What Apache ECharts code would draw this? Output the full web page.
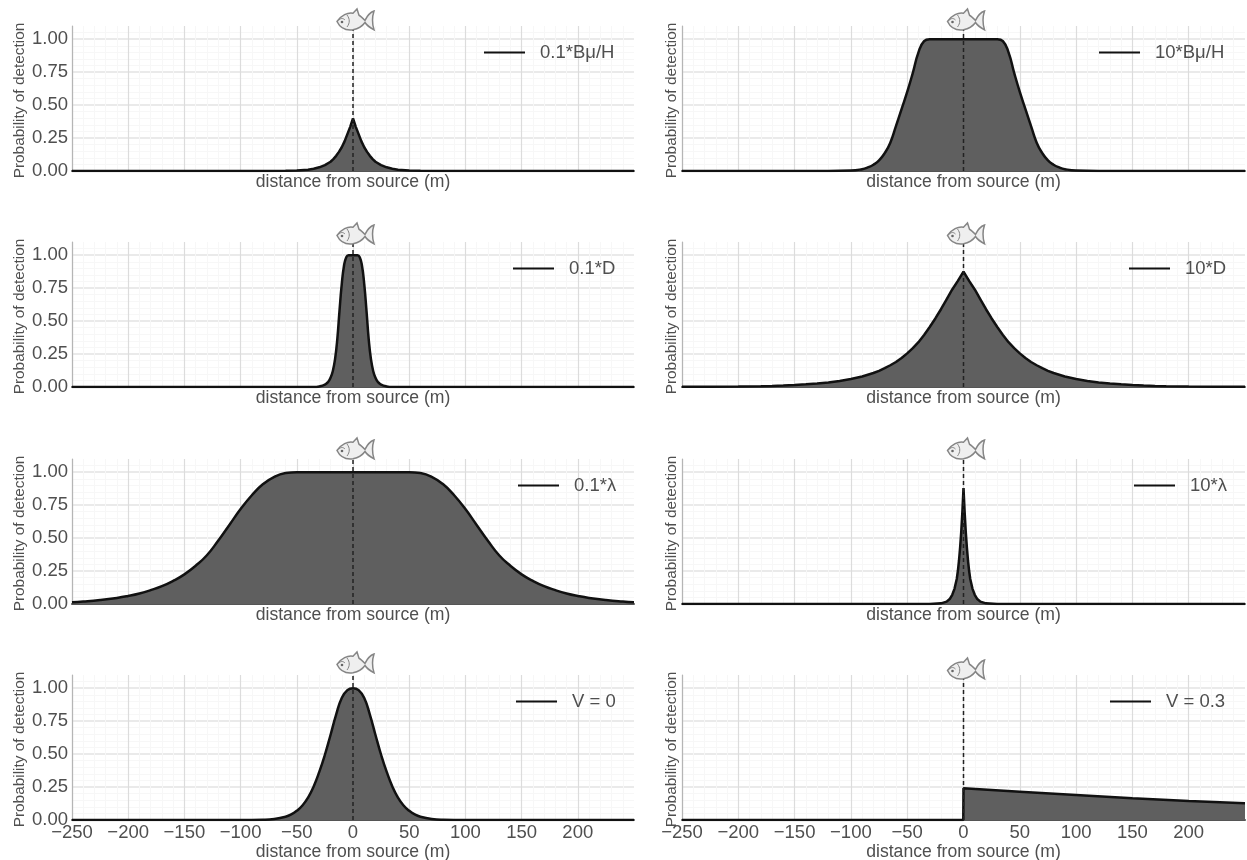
<!DOCTYPE html>
<html lang="en">
<head>
    <meta charset="UTF-8">
    <title>detection</title>
    <script src="https://cdn.jsdelivr.net/npm/echarts@6/dist/echarts.min.js"></script>
    <style>
        html, body { margin: 0; padding: 0; background: #fff; }
    </style>
</head>
<body>
<div id="main" style="width: 1247px; height: 860px"></div>

<script>
    // values
    var seriesNames = ['0.1*Bμ/H', '10*Bμ/H', '0.1*D', '10*D', '0.1*λ', '10*λ', 'V = 0', 'V = 0.3'];
    var xName = 'distance from source (m)';
    var yName = 'Probability of detection';

    var xBmuLow = [-250, -80, -60, -50, -40, -35, -30, -25, -20, -17.5, -15, -12.5, -10, -7.5, -5, -2.5, 0, 2.5, 5, 7.5, 10, 12.5, 15, 17.5, 20, 25, 30, 35, 40, 50, 60, 80, 250];
    var yBmuLow = [0, 0, 0.001, 0.004, 0.01, 0.017, 0.028, 0.045, 0.07, 0.09, 0.115, 0.145, 0.18, 0.225, 0.28, 0.335, 0.40, 0.335, 0.28, 0.225, 0.18, 0.145, 0.115, 0.09, 0.07, 0.045, 0.028, 0.017, 0.01, 0.004, 0.001, 0, 0];

    var xBmuHigh = [-250, -120, -100, -90, -85, -80, -75, -70, -65, -60, -55, -50, -45, -40, -35, -30, -25, 0, 25, 30, 35, 40, 45, 50, 55, 60, 65, 70, 75, 80, 85, 90, 100, 120, 250];
    var yBmuHigh = [0, 0, 0.003, 0.014, 0.027, 0.047, 0.08, 0.135, 0.215, 0.34, 0.47, 0.60, 0.745, 0.90, 0.985, 1, 1, 1, 1, 1, 0.985, 0.90, 0.745, 0.60, 0.47, 0.34, 0.215, 0.135, 0.08, 0.047, 0.027, 0.014, 0.003, 0, 0];

    var xDLow = [-250, -35, -30, -25, -22, -20, -18, -16, -14, -12, -10, -8, -6, -4, 0, 4, 6, 8, 10, 12, 14, 16, 18, 20, 22, 25, 30, 35, 250];
    var yDLow = [0, 0, 0.004, 0.018, 0.04, 0.07, 0.12, 0.21, 0.36, 0.58, 0.78, 0.92, 0.985, 1, 1, 1, 0.985, 0.92, 0.78, 0.58, 0.36, 0.21, 0.12, 0.07, 0.04, 0.018, 0.004, 0, 0];

    var xDHigh = [-250, -225, -200, -180, -170, -160, -150, -140, -130, -120, -110, -100, -90, -80, -75, -70, -65, -60, -55, -50, -45, -40, -35, -30, -25, -20, -15, -10, -5, 0, 5, 10, 15, 20, 25, 30, 35, 40, 45, 50, 55, 60, 65, 70, 75, 80, 90, 100, 110, 120, 130, 140, 150, 160, 170, 180, 200, 225, 250];
    var yDHigh = [0.001, 0.0015, 0.003, 0.006, 0.008, 0.011, 0.015, 0.02, 0.026, 0.035, 0.046, 0.06, 0.08, 0.106, 0.123, 0.143, 0.165, 0.19, 0.22, 0.255, 0.295, 0.34, 0.395, 0.455, 0.52, 0.59, 0.665, 0.74, 0.805, 0.875, 0.805, 0.74, 0.665, 0.59, 0.52, 0.455, 0.395, 0.34, 0.295, 0.255, 0.22, 0.19, 0.165, 0.143, 0.123, 0.106, 0.08, 0.06, 0.046, 0.035, 0.026, 0.02, 0.015, 0.011, 0.008, 0.006, 0.003, 0.0015, 0.001];

    var xLamLow = [-250, -240, -225, -210, -200, -190, -180, -170, -160, -150, -140, -130, -120, -110, -100, -90, -80, -70, -60, -50, 0, 50, 60, 70, 80, 90, 100, 110, 120, 130, 140, 150, 160, 170, 180, 190, 200, 210, 225, 240, 250];
    var yLamLow = [0.014, 0.019, 0.03, 0.046, 0.061, 0.08, 0.105, 0.135, 0.175, 0.225, 0.29, 0.37, 0.48, 0.60, 0.72, 0.825, 0.91, 0.965, 0.993, 1, 1, 1, 0.993, 0.965, 0.91, 0.825, 0.72, 0.60, 0.48, 0.37, 0.29, 0.225, 0.175, 0.135, 0.105, 0.08, 0.061, 0.046, 0.03, 0.019, 0.014];

    var xLamHigh = [-250, -30, -20, -15, -12, -10, -8, -6, -5, -4, -3, -2, -1, 0, 1, 2, 3, 4, 5, 6, 8, 10, 12, 15, 20, 30, 250];
    var yLamHigh = [0, 0, 0.005, 0.018, 0.04, 0.07, 0.115, 0.19, 0.25, 0.33, 0.43, 0.55, 0.70, 0.88, 0.70, 0.55, 0.43, 0.33, 0.25, 0.19, 0.115, 0.07, 0.04, 0.018, 0.005, 0, 0];

    var xVZero = [-250, -100, -80, -70, -60, -55, -50, -45, -40, -35, -30, -25, -20, -15, -10, -5, 0, 5, 10, 15, 20, 25, 30, 35, 40, 45, 50, 55, 60, 70, 80, 100, 250];
    var yVZero = [0, 0, 0.002, 0.008, 0.025, 0.042, 0.07, 0.11, 0.17, 0.255, 0.365, 0.495, 0.645, 0.80, 0.925, 0.985, 1, 0.985, 0.925, 0.80, 0.645, 0.495, 0.365, 0.255, 0.17, 0.11, 0.07, 0.042, 0.025, 0.008, 0.002, 0, 0];

    var xVHigh = [-250, -0.2, 0, 50, 100, 150, 200, 250];
    var yVHigh = [0, 0, 0.24, 0.215, 0.19, 0.165, 0.145, 0.128];

    var panelX = [xBmuLow, xBmuHigh, xDLow, xDHigh, xLamLow, xLamHigh, xVZero, xVHigh];
    var panelY = [yBmuLow, yBmuHigh, yDLow, yDHigh, yLamLow, yLamHigh, yVZero, yVHigh];
    var smoothed = [false, true, true, false, true, false, true, false];

    // layout in pixels
    var colLeft = [72, 682];
    var colWidth = [562, 563];
    var rowTop = [26, 242, 459, 675];
    var gridHeight = 145;
    var legendLeft = [484, 1099, 513, 1129, 518, 1134, 516, 1110];
    var fishCenterY = [20, 20, 234, 234, 449, 449, 663, 669];

    var fishBody = 'M2 13C6 7 13 4 18 5L22 1L24 7C26 8 28 10 30 12C32 8 36 4 39 3C37 9 37 15 39 21C35 19 32 17 30 14C27 18 23 20 18 21C10 22 5 19 2 13Z';
    var fishGill = 'M12 7C15 11 15 15 12 19M4 12C6 10 8 10 10 12';

    // the fish icon sits above x = 0 of its panel
    function fishRenderer(cy) {
        return function (params, api) {
            var pt = api.coord([0, 0]);
            return {
                type: 'group',
                x: pt[0] - 18,
                y: cy - 12,
                silent: true,
                children: [
                    { type: 'path', shape: { pathData: fishBody, x: 2, y: 1, width: 37, height: 21, layout: 'cover' }, style: { fill: '#efefef', stroke: '#858585', lineWidth: 1.5 } },
                    { type: 'path', shape: { pathData: fishGill, x: 4, y: 7, width: 10.25, height: 12, layout: 'cover' }, style: { fill: 'none', stroke: '#858585', lineWidth: 1 } },
                    { type: 'circle', shape: { cx: 7, cy: 14, r: 1.3 }, style: { fill: '#666' } }
                ]
            };
        };
    }

    var grids = [], xAxes = [], yAxes = [], series = [], legends = [];

    for (var i = 0; i < 8; i++) {
        var col = i % 2;
        var row = Math.floor(i / 2);
        var bottomRow = row === 3;

        // outerBoundsMode none: v6 would otherwise shrink the grid to fit the axis names
        grids.push({ left: colLeft[col], top: rowTop[row], width: colWidth[col], height: gridHeight, outerBoundsMode: 'none' });

        xAxes.push({
            gridIndex: i,
            type: 'value',
            min: -250,
            max: 250,
            interval: 50,
            name: xName,
            nameLocation: 'middle',
            nameGap: bottomRow ? 22 : 2,
            nameTextStyle: { fontFamily: 'Liberation Sans', fontSize: 17.6, color: '#4f4f4f', verticalAlign: 'top' },
            axisLine: { show: true, onZero: false, lineStyle: { color: '#555', width: 2 } },
            axisTick: { show: false },
            minorTick: { show: false, splitNumber: 5 },
            axisLabel: {
                show: bottomRow,
                margin: 3,
                fontFamily: 'Liberation Sans',
                fontSize: 18.5,
                color: '#4f4f4f',
                showMaxLabel: false,
                formatter: function (v) { return String(v).replace('-', '\u2212'); }
            },
            splitLine: { show: true, showMaxLine: false, lineStyle: { color: '#dcdcdc', width: 1.2 } },
            minorSplitLine: { show: true, lineStyle: { color: '#f7f7f7', width: 1 } }
        });

        yAxes.push({
            gridIndex: i,
            type: 'value',
            min: 0,
            max: 1.1,
            interval: 0.25,
            name: yName,
            nameLocation: 'middle',
            nameGap: col === 0 ? 45 : 3,
            nameTextStyle: { fontFamily: 'Liberation Sans', fontSize: 15.4, color: '#4f4f4f', padding: [0, 4, 0, 0] },
            axisLine: { show: true, onZero: false, lineStyle: { color: '#b5b5b5', width: 1.2 } },
            axisTick: { show: false },
            minorTick: { show: false, splitNumber: 5 },
            axisLabel: {
                show: col === 0,
                margin: 4,
                fontFamily: 'Liberation Sans',
                fontSize: 18.5,
                color: '#4f4f4f',
                showMaxLabel: false,
                formatter: function (v) { return v.toFixed(2); }
            },
            splitLine: { show: true, showMaxLine: false, lineStyle: { color: '#e3e3e3', width: 1.5 } },
            minorSplitLine: { show: true, lineStyle: { color: '#f7f7f7', width: 1 } }
        });

        var points = [];
        for (var j = 0; j < panelX[i].length; j++) {
            points.push([panelX[i][j], panelY[i][j]]);
        }

        series.push({
            name: seriesNames[i],
            type: 'line',
            xAxisIndex: i,
            yAxisIndex: i,
            data: points,
            showSymbol: false,
            smooth: smoothed[i] ? 0.5 : false,
            lineStyle: { color: '#111', width: 2.5 },
            itemStyle: { color: '#111' },
            areaStyle: { color: '#5f5f5f', opacity: 1 },
            z: 3
        });
        series.push({
            name: 'source ' + i,
            type: 'line',
            xAxisIndex: i,
            yAxisIndex: i,
            data: [[0, 0], [0, 1.1]],
            showSymbol: false,
            lineStyle: { color: '#222', width: 1.5, type: [4, 3] },
            z: 4
        });
        series.push({
            name: 'fish ' + i,
            type: 'custom',
            xAxisIndex: i,
            yAxisIndex: i,
            data: [[0, 0]],
            renderItem: fishRenderer(fishCenterY[i]),
            silent: true,
            z: 5
        });

        legends.push({
            data: [seriesNames[i]],
            left: legendLeft[i],
            top: rowTop[row] + 17,
            padding: 0,
            itemWidth: 41,
            itemHeight: 14,
            icon: 'path://M0 6H41V8H0Z',
            itemStyle: { color: '#111' },
            textStyle: { fontFamily: 'Liberation Sans', fontSize: 18.5, color: '#4f4f4f', padding: [0, 0, 0, 10] }
        });
    }

    var myChart = echarts.init(document.getElementById('main'), null, { renderer: 'canvas' });
    myChart.setOption({
        animation: false,
        backgroundColor: '#fff',
        grid: grids,
        xAxis: xAxes,
        yAxis: yAxes,
        legend: legends,
        series: series
    });
</script>
</body>
</html>
